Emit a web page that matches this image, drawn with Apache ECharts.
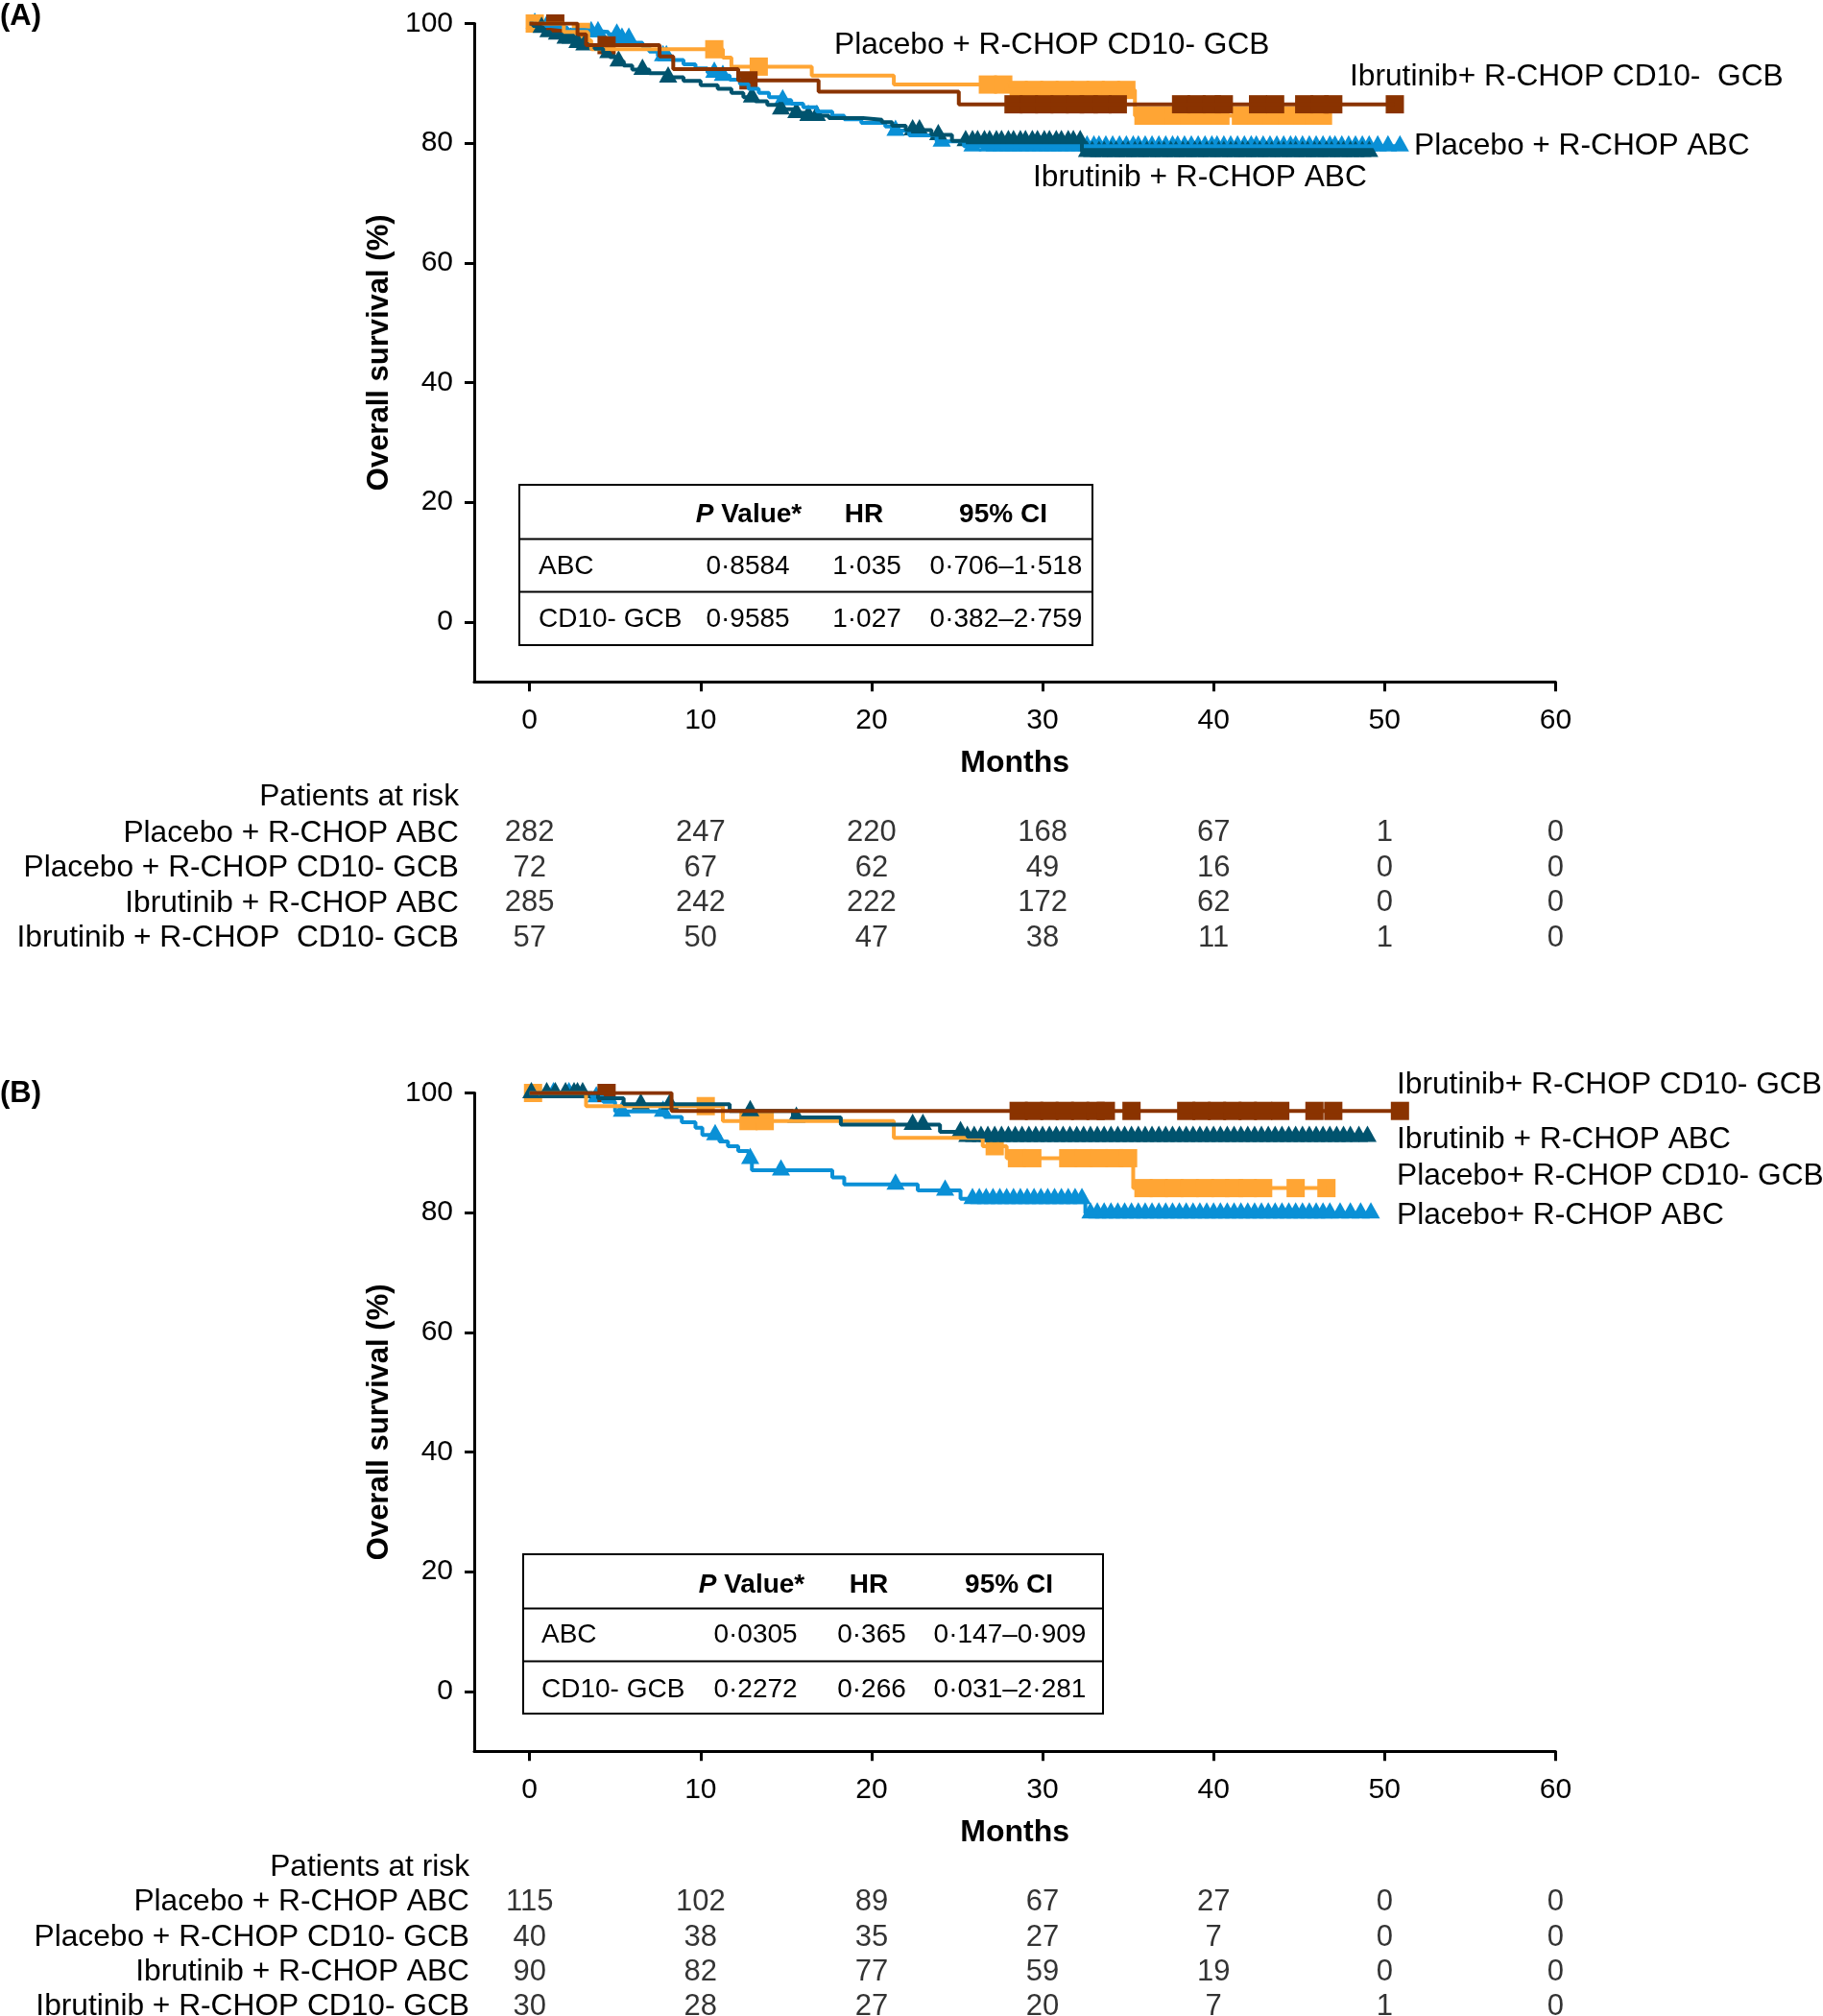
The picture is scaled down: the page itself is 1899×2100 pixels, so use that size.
<!DOCTYPE html>
<html><head><meta charset="utf-8">
<script src="https://cdn.jsdelivr.net/npm/echarts/dist/echarts.min.js"></script>
<style>html,body{margin:0;padding:0;background:#fff}#c{width:1899px;height:2100px}</style>
</head><body><div id="c"></div><script>
// ---------- DATA ----------
const months = [0, 10, 20, 30, 40, 50, 60];
const survTicks = [0, 20, 40, 60, 80, 100];

// Panel A
const A_pboABC_t = [0.4,1.2,2.2,3.2,4.6,5.4,6.0,6.6,7.0,7.5,8.3,9.0,9.7,10.4,11.0,11.7,12.3,12.8,13.4,14.0,14.6,15.3,16.0,16.8,17.7,18.4,19.4,20.8,21.2,22.2,23.8,25.4];
const A_pboABC_s = [99.6,99.3,98.9,98.6,98.2,97.5,96.8,96.1,95.3,94.6,93.9,93.2,92.5,91.8,91.3,90.6,89.9,89.1,88.4,87.7,87.2,86.6,86.0,85.3,84.6,84.0,83.4,82.8,82.1,81.3,80.3,79.5];
const A_pboABC_end = 50.9;
const A_pboABC_c = [0.3,1.0,3.6,4.0,5.1,5.4,5.8,7.8,8.0,10.8,11.3,14.8,21.4,24.1,25.9,26.8,27.2,27.6,28.0,28.3,28.7,29.1,29.5,29.9,30.3,30.6,31.0,31.4,31.8,32.2,32.6,33.0,33.3,33.7,34.1,34.5,34.9,35.3,35.6,36.0,36.4,36.8,37.2,37.6,37.9,38.3,38.7,39.1,39.5,39.9,40.2,40.6,41.0,41.4,41.8,42.2,42.5,42.9,43.3,43.7,44.1,44.5,44.8,45.2,45.6,46.0,46.4,46.8,47.1,47.5,47.9,48.3,48.7,49.1,49.6,50.2,50.9];

const A_pboGCB_t = [2.0,3.4,3.6,11.3,11.8,16.5,21.3,27.9,35.4];
const A_pboGCB_s = [98.6,97.2,95.7,94.3,92.8,91.3,89.8,88.9,84.6];
const A_pboGCB_end = 46.4;
const A_pboGCB_c = [0.3,3.0,10.8,13.4,26.8,27.7,28.6,29.5,30.4,31.3,32.2,33.1,34.0,34.9,35.9,36.8,37.7,38.6,39.5,40.4,41.6,42.5,43.4,44.3,45.2,45.9,46.4];

const A_ibrABC_t = [0.2,0.5,0.8,1.2,1.8,2.5,3.0,3.8,4.3,4.7,5.1,5.5,6.0,7.0,8.0,9.0,10.0,11.0,11.8,12.5,13.2,13.9,14.6,15.4,16.3,17.5,19.5,20.6,21.2,22.0,23.5,24.7,32.3];
const A_ibrABC_s = [99.6,99.3,98.6,98.2,97.5,96.8,96.4,95.8,95.1,94.4,93.7,93.0,92.3,91.7,91.0,90.4,89.7,89.1,88.4,87.7,87.0,86.4,85.7,85.1,84.6,84.2,83.9,83.5,82.9,82.2,81.4,80.4,78.6];
const A_ibrABC_end = 49.1;
const A_ibrABC_c = [0.7,1.1,1.6,2.1,2.4,2.8,3.2,4.6,5.2,6.6,8.1,13.0,14.7,15.6,16.3,16.8,22.4,22.8,23.9,25.5,25.9,26.2,26.6,26.9,27.3,27.6,28.0,28.3,28.7,29.0,29.4,29.7,30.1,30.4,30.8,31.1,31.5,31.8,32.2,32.6,32.9,33.3,33.6,34.0,34.3,34.7,35.0,35.4,35.7,36.1,36.4,36.8,37.1,37.5,37.8,38.2,38.5,38.9,39.2,39.6,39.9,40.3,40.6,41.0,41.3,41.7,42.0,42.4,42.7,43.1,43.4,43.8,44.1,44.5,44.8,45.2,45.5,45.9,46.2,46.6,46.9,47.3,47.6,48.0,48.3,48.7,49.1];

const A_ibrGCB_t = [2.8,3.3,7.6,8.4,12.2,16.9,25.1];
const A_ibrGCB_s = [98.2,96.4,94.5,92.4,90.5,88.6,86.5];
const A_ibrGCB_end = 50.6;
const A_ibrGCB_c = [1.5,4.5,12.8,28.3,29.2,30.1,31.0,31.9,32.7,33.5,34.4,38.1,39.0,39.9,40.6,42.6,43.6,45.3,46.2,47.0,50.6];

// Panel B
const B_pboABC_t = [3.65,4.3,5.0,7.9,8.9,9.7,10.1,11.1,11.6,12.2,12.8,13.0,17.7,18.4,22.7,25.2,32.5];
const B_pboABC_s = [99.3,98.5,96.9,96.0,95.1,94.2,93.0,91.9,91.1,90.3,89.0,87.1,85.9,84.7,83.7,82.3,79.9];
const B_pboABC_end = 49.3;
const B_pboABC_c = [1.4,2.3,3.9,5.4,7.8,10.85,12.9,14.7,21.4,24.3,25.9,26.3,26.7,27.1,27.5,27.9,28.3,28.7,29.1,29.5,29.9,30.3,30.7,31.1,31.5,31.9,32.3,32.8,33.2,33.6,34.0,34.4,34.8,35.2,35.6,36.0,36.4,36.8,37.2,37.6,38.0,38.4,38.8,39.2,39.6,40.0,40.4,40.8,41.2,41.6,42.0,42.4,42.8,43.2,43.6,44.0,44.4,44.8,45.2,45.6,46.0,46.4,46.8,47.4,48.0,48.6,49.2];

const B_pboGCB_t = [3.3,11.3,21.3,26.5,27.9,35.3];
const B_pboGCB_s = [97.8,95.3,92.5,91.1,89.1,84.1];
const B_pboGCB_end = 46.6;
const B_pboGCB_c = [0.2,10.3,12.8,13.75,27.2,28.5,29.4,31.5,32.4,33.3,34.2,35.0,35.9,36.8,37.7,38.6,39.5,40.4,41.2,42.0,42.9,44.8,46.6];

const B_ibrABC_t = [4.0,5.5,11.7,15.4,18.2,24.0,25.6];
const B_ibrABC_s = [99.1,98.1,97.0,95.9,94.7,93.5,92.7];
const B_ibrABC_end = 49.2;
const B_ibrABC_c = [0.1,1.0,1.5,2.1,2.6,2.8,3.1,6.5,8.2,12.9,15.6,22.4,23.0,25.2,25.6,26.0,26.4,26.8,27.2,27.6,28.0,28.4,28.8,29.2,29.6,30.0,30.4,30.8,31.2,31.6,32.0,32.4,32.8,33.2,33.6,34.0,34.4,34.8,35.2,35.6,36.0,36.4,36.8,37.2,37.6,38.0,38.4,38.8,39.2,39.6,40.0,40.4,40.8,41.2,41.6,42.0,42.4,42.8,43.2,43.6,44.0,44.4,44.8,45.2,45.6,46.0,46.4,46.8,47.2,47.6,48.0,48.5,49.0];

const B_ibrGCB_t = [8.3];
const B_ibrGCB_s = [97.0];
const B_ibrGCB_end = 50.9;
const B_ibrGCB_c = [4.5,28.6,29.5,30.4,31.3,32.2,33.1,33.7,35.2,38.4,39.3,40.2,41.1,42.0,42.9,43.9,45.9,47.0,50.9];

// Curve labels
const A_curveLabels = ['Placebo + R-CHOP CD10- GCB', 'Ibrutinib+ R-CHOP CD10-  GCB', 'Placebo + R-CHOP ABC', 'Ibrutinib + R-CHOP ABC'];
const B_curveLabels = ['Ibrutinib+ R-CHOP CD10- GCB', 'Ibrutinib + R-CHOP ABC', 'Placebo+ R-CHOP CD10- GCB', 'Placebo+ R-CHOP ABC'];

// Stats tables
const tableHeader = ['P Value*', 'HR', '95% CI'];
const tableRowNames = ['ABC', 'CD10- GCB'];
const A_pval = ['0·8584', '0·9585'];
const A_hr = ['1·035', '1·027'];
const A_ci = ['0·706–1·518', '0·382–2·759'];
const B_pval = ['0·0305', '0·2272'];
const B_hr = ['0·365', '0·266'];
const B_ci = ['0·147–0·909', '0·031–2·281'];

// Patients at risk
const A_riskRows = ['Placebo + R-CHOP ABC', 'Placebo + R-CHOP CD10- GCB', 'Ibrutinib + R-CHOP ABC', 'Ibrutinib + R-CHOP  CD10- GCB'];
const A_risk_pboABC = [282, 247, 220, 168, 67, 1, 0];
const A_risk_pboGCB = [72, 67, 62, 49, 16, 0, 0];
const A_risk_ibrABC = [285, 242, 222, 172, 62, 0, 0];
const A_risk_ibrGCB = [57, 50, 47, 38, 11, 1, 0];
const B_riskRows = ['Placebo + R-CHOP ABC', 'Placebo + R-CHOP CD10- GCB', 'Ibrutinib + R-CHOP ABC', 'Ibrutinib + R-CHOP CD10- GCB'];
const B_risk_pboABC = [115, 102, 89, 67, 27, 0, 0];
const B_risk_pboGCB = [40, 38, 35, 27, 7, 0, 0];
const B_risk_ibrABC = [90, 82, 77, 59, 19, 0, 0];
const B_risk_ibrGCB = [30, 28, 27, 20, 7, 1, 0];

// ---------- STYLE / BUILD ----------
const FONT = '"Liberation Sans", Arial, Helvetica, sans-serif';
const C_BLUE = '#0a90d6', C_TEAL = '#00536e', C_ORANGE = '#ffa534', C_BROWN = '#8a3300';
const XMIN = -3.24;
const LBL = 31.7;

function stepData(t, s, end) {
  const d = [[0, 100]];
  for (let i = 0; i < t.length; i++) d.push([t[i], s[i]]);
  d.push([end, s[s.length - 1]]);
  return d;
}
function survAt(t, s, x) {
  let v = 100;
  for (let i = 0; i < t.length; i++) if (t[i] <= x) v = s[i];
  return v;
}
function censorData(t, s, c) { return c.map(x => [x, survAt(t, s, x)]); }

function curveSeries(ax, t, s, end, c, color, sym) {
  const isTri = sym === 'triangle';
  return [
    { type: 'line', xAxisIndex: ax, yAxisIndex: ax, step: 'end', data: stepData(t, s, end),
      symbol: 'none', lineStyle: { color: color, width: 4 }, itemStyle: { color: color }, silent: true, animation: false },
    { type: 'scatter', xAxisIndex: ax, yAxisIndex: ax, data: censorData(t, s, c),
      symbol: sym, symbolSize: isTri ? [19, 17] : 19, symbolOffset: isTri ? [0, -3] : [0, 0],
      itemStyle: { color: color, opacity: 1 }, silent: true, animation: false }
  ];
}
function riskSeries(ax, rowsVals) {
  const data = [];
  rowsVals.forEach((vals, r) => vals.forEach((v, j) => data.push([months[j], r, v])));
  return { type: 'scatter', xAxisIndex: ax, yAxisIndex: ax, data: data, symbolSize: 1,
    itemStyle: { color: 'rgba(0,0,0,0)' }, silent: true, animation: false,
    label: { show: true, position: 'inside', formatter: p => String(p.value[2]), fontSize: 31, color: '#000', fontFamily: FONT } };
}

function mainX(gi) {
  return { gridIndex: gi, type: 'value', min: XMIN, max: 60,
    axisLine: { show: true, onZero: false, lineStyle: { color: '#000', width: 3 } },
    axisTick: { show: true, length: 10, customValues: months, lineStyle: { color: '#000', width: 3 } },
    axisLabel: { customValues: months, fontSize: 30, color: '#000', fontFamily: FONT, margin: 26 },
    splitLine: { show: false },
    name: 'Months', nameLocation: 'middle', nameGap: 69,
    nameTextStyle: { fontSize: 32, fontWeight: 'bold', color: '#000', fontFamily: FONT } };
}
function mainY(gi) {
  return { gridIndex: gi, type: 'value', min: -10, max: 100,
    axisLine: { show: true, onZero: false, lineStyle: { color: '#000', width: 3 } },
    axisTick: { show: true, length: 10, customValues: survTicks, lineStyle: { color: '#000', width: 3 } },
    axisLabel: { customValues: survTicks, fontSize: 30, color: '#000', fontFamily: FONT, margin: 22 },
    splitLine: { show: false },
    name: 'Overall survival (%)', nameLocation: 'middle', nameGap: 80,
    nameTextStyle: { fontSize: 31, fontWeight: 'bold', color: '#000', fontFamily: FONT } };
}
function riskX(gi) { return { gridIndex: gi, type: 'value', min: XMIN, max: 60, show: false }; }
function riskY(gi, rows, margin) {
  return { gridIndex: gi, type: 'category', data: rows, inverse: true,
    axisLine: { show: false }, axisTick: { show: false }, splitLine: { show: false },
    axisLabel: { interval: 0, fontSize: LBL, color: '#000', fontFamily: FONT, margin: margin } };
}

function txt(str, x, y, align, weight, size) {
  return { type: 'text', z: 50, style: { text: str, x: x, y: y, fill: '#000',
    font: (weight || 'normal') + ' ' + (size || LBL) + 'px ' + FONT,
    align: align || 'left', textAlign: align || 'left', verticalAlign: 'middle', textVerticalAlign: 'middle' } };
}
function tableEls(box, divs, headY, rowYs, firstX, headCols, numCols, p, hr, ci) {
  const FS = 28;
  const els = [];
  els.push({ type: 'rect', z: 40, shape: { x: box[0], y: box[1], width: box[2], height: box[3] },
    style: { fill: '#fff', stroke: '#000', lineWidth: 2 } });
  divs.forEach(y => els.push({ type: 'line', z: 41, shape: { x1: box[0], y1: y, x2: box[0] + box[2], y2: y },
    style: { stroke: '#000', lineWidth: 2 } }));
  els.push({ type: 'text', z: 50, style: { text: '{i|P} {b|Value*}', x: headCols[0], y: headY,
    font: 'bold ' + FS + 'px ' + FONT, fill: '#000', align: 'center', textAlign: 'center', verticalAlign: 'middle', textVerticalAlign: 'middle',
    rich: { i: { fontStyle: 'italic', fontWeight: 'bold', fontSize: FS, fontFamily: FONT, fill: '#000' },
            b: { fontWeight: 'bold', fontSize: FS, fontFamily: FONT, fill: '#000' } } } });
  els.push(txt(tableHeader[1], headCols[1], headY, 'center', 'bold', FS));
  els.push(txt(tableHeader[2], headCols[2], headY, 'center', 'bold', FS));
  for (let r = 0; r < 2; r++) {
    els.push(txt(tableRowNames[r], firstX, rowYs[r], 'left', 'normal', FS));
    els.push(txt(p[r], numCols[0], rowYs[r], 'center', 'normal', FS));
    els.push(txt(hr[r], numCols[1], rowYs[r], 'center', 'normal', FS));
    els.push(txt(ci[r], numCols[2], rowYs[r], 'center', 'normal', FS));
  }
  return els;
}

const series = [].concat(
  curveSeries(0, A_pboABC_t, A_pboABC_s, A_pboABC_end, A_pboABC_c, C_BLUE, 'triangle'),
  curveSeries(0, A_pboGCB_t, A_pboGCB_s, A_pboGCB_end, A_pboGCB_c, C_ORANGE, 'rect'),
  curveSeries(0, A_ibrABC_t, A_ibrABC_s, A_ibrABC_end, A_ibrABC_c, C_TEAL, 'triangle'),
  curveSeries(0, A_ibrGCB_t, A_ibrGCB_s, A_ibrGCB_end, A_ibrGCB_c, C_BROWN, 'rect'),
  curveSeries(2, B_pboABC_t, B_pboABC_s, B_pboABC_end, B_pboABC_c, C_BLUE, 'triangle'),
  curveSeries(2, B_pboGCB_t, B_pboGCB_s, B_pboGCB_end, B_pboGCB_c, C_ORANGE, 'rect'),
  curveSeries(2, B_ibrABC_t, B_ibrABC_s, B_ibrABC_end, B_ibrABC_c, C_TEAL, 'triangle'),
  curveSeries(2, B_ibrGCB_t, B_ibrGCB_s, B_ibrGCB_end, B_ibrGCB_c, C_BROWN, 'rect'),
  [riskSeries(1, [A_risk_pboABC, A_risk_pboGCB, A_risk_ibrABC, A_risk_ibrGCB]),
   riskSeries(3, [B_risk_pboABC, B_risk_pboGCB, B_risk_ibrABC, B_risk_ibrGCB])]
);

const graphic = [].concat(
  [txt('(A)', 0, 17, 'left', 'bold', 31), txt('(B)', 0, 1139, 'left', 'bold', 31)],
  [txt(A_curveLabels[0], 869, 47), txt(A_curveLabels[1], 1406, 80), txt(A_curveLabels[2], 1473, 152), txt(A_curveLabels[3], 1076, 185)],
  [txt(B_curveLabels[0], 1455, 1130), txt(B_curveLabels[1], 1455, 1187), txt(B_curveLabels[2], 1455, 1225), txt(B_curveLabels[3], 1455, 1266)],
  [txt('Patients at risk', 478, 830, 'right'), txt('Patients at risk', 489, 1945, 'right')],
  tableEls([541, 505, 597, 167], [561.5, 616.5], 536, [590, 645], 561, [780, 900, 1045], [779, 903, 1048], A_pval, A_hr, A_ci),
  tableEls([545, 1619, 604, 166], [1675.5, 1730.5], 1651, [1703, 1760], 564, [783, 905, 1051], [787, 908, 1052], B_pval, B_hr, B_ci)
);

const chart = echarts.init(document.getElementById('c'), null, { renderer: 'canvas' });
chart.setOption({
  animation: false,
  backgroundColor: '#fff',
  textStyle: { fontFamily: FONT },
  grid: [
    { left: 494, top: 24.5, width: 1126.4, height: 685.7, outerBoundsMode: 'none', containLabel: false },
    { left: 494, top: 849.7, width: 1126.4, height: 146, outerBoundsMode: 'none', containLabel: false },
    { left: 494, top: 1138.5, width: 1126.4, height: 685.7, outerBoundsMode: 'none', containLabel: false },
    { left: 494, top: 1963.6, width: 1126.4, height: 145.2, outerBoundsMode: 'none', containLabel: false }
  ],
  xAxis: [mainX(0), riskX(1), mainX(2), riskX(3)],
  yAxis: [mainY(0), riskY(1, A_riskRows, 16), mainY(2), riskY(3, B_riskRows, 5)],
  series: series,
  graphic: graphic
});
</script></body></html>
